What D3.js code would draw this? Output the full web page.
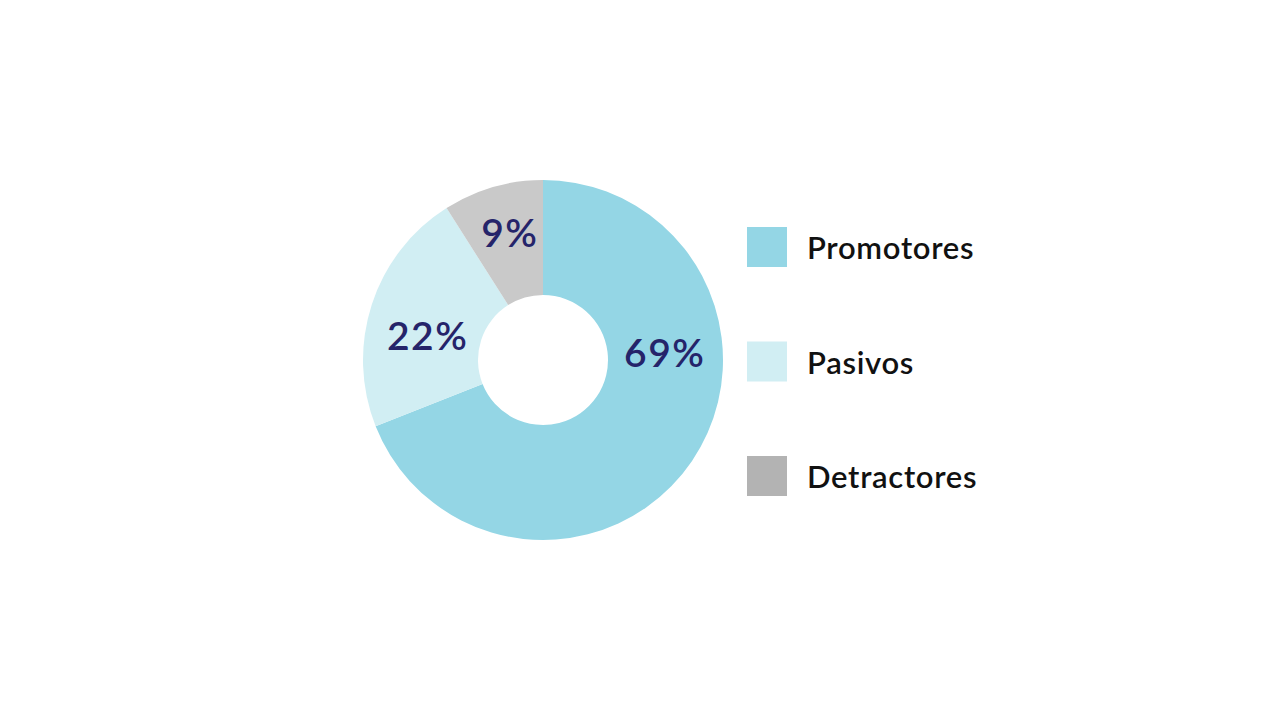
<!DOCTYPE html>
<html>
<head>
<meta charset="utf-8">
<script src="https://cdn.jsdelivr.net/npm/d3@7"></script>
<style>
  body { margin: 0; background: #ffffff; }
</style>
</head>
<body>
<div id="chart"></div>
<script>
const categories = ["Promotores", "Pasivos", "Detractores"];
const values = [69, 22, 9];
const sliceColors = ["#94D6E5", "#D1EEF3", "#C9C9C9"];
const swatchColors = ["#94D6E5", "#D1EEF3", "#B3B3B3"];
// where each percentage sits (degrees clockwise from top, distance from centre)
const labelAngles = [86, 282, 345];
const labelRadii = [121, 119, 132];

const width = 1280, height = 720;
const center = { x: 543, y: 360 };
const outerR = 180, innerR = 65;

const svg = d3.select("#chart")
  .append("svg")
  .attr("width", width)
  .attr("height", height);

const pie = d3.pie().sort(null).value(d => d);
const arc = d3.arc().innerRadius(innerR).outerRadius(outerR);

const g = svg.append("g").attr("transform", `translate(${center.x}, ${center.y})`);

g.selectAll("path.slice")
  .data(pie(values))
  .join("path")
  .attr("class", "slice")
  .attr("d", arc)
  .attr("fill", (d, i) => sliceColors[i]);

g.selectAll("text.pct")
  .data(values)
  .join("text")
  .attr("class", "pct")
  .attr("transform", (d, i) => {
    const a = labelAngles[i] * Math.PI / 180;
    const c = d3.arc().innerRadius(labelRadii[i]).outerRadius(labelRadii[i])
      .startAngle(a).endAngle(a).centroid();
    return `translate(${c[0] + 1}, ${c[1]})`;
  })
  .attr("text-anchor", "middle")
  .attr("dominant-baseline", "central")
  .attr("font-family", "Lato, 'Open Sans', sans-serif")
  .attr("font-weight", 600)
  .attr("font-size", 39)
  .attr("letter-spacing", 1.5)
  .attr("fill", "#25246A")
  .text(d => d + "%");

// legend
const legendY = d3.scalePoint().domain(categories).range([247, 476]);
const legend = svg.append("g").attr("transform", "translate(747, 0)");

legend.selectAll("rect.swatch")
  .data(categories)
  .join("rect")
  .attr("class", "swatch")
  .attr("x", 0)
  .attr("y", d => legendY(d) - 20)
  .attr("width", 40)
  .attr("height", 40)
  .attr("fill", (d, i) => swatchColors[i]);

legend.selectAll("text.lbl")
  .data(categories)
  .join("text")
  .attr("class", "lbl")
  .attr("x", 60)
  .attr("y", d => legendY(d))
  .attr("dominant-baseline", "central")
  .attr("font-family", "Lato, 'Open Sans', sans-serif")
  .attr("font-weight", 600)
  .attr("font-size", 31)
  .attr("letter-spacing", 0.7)
  .attr("fill", "#111111")
  .text(d => d);
</script>
</body>
</html>
